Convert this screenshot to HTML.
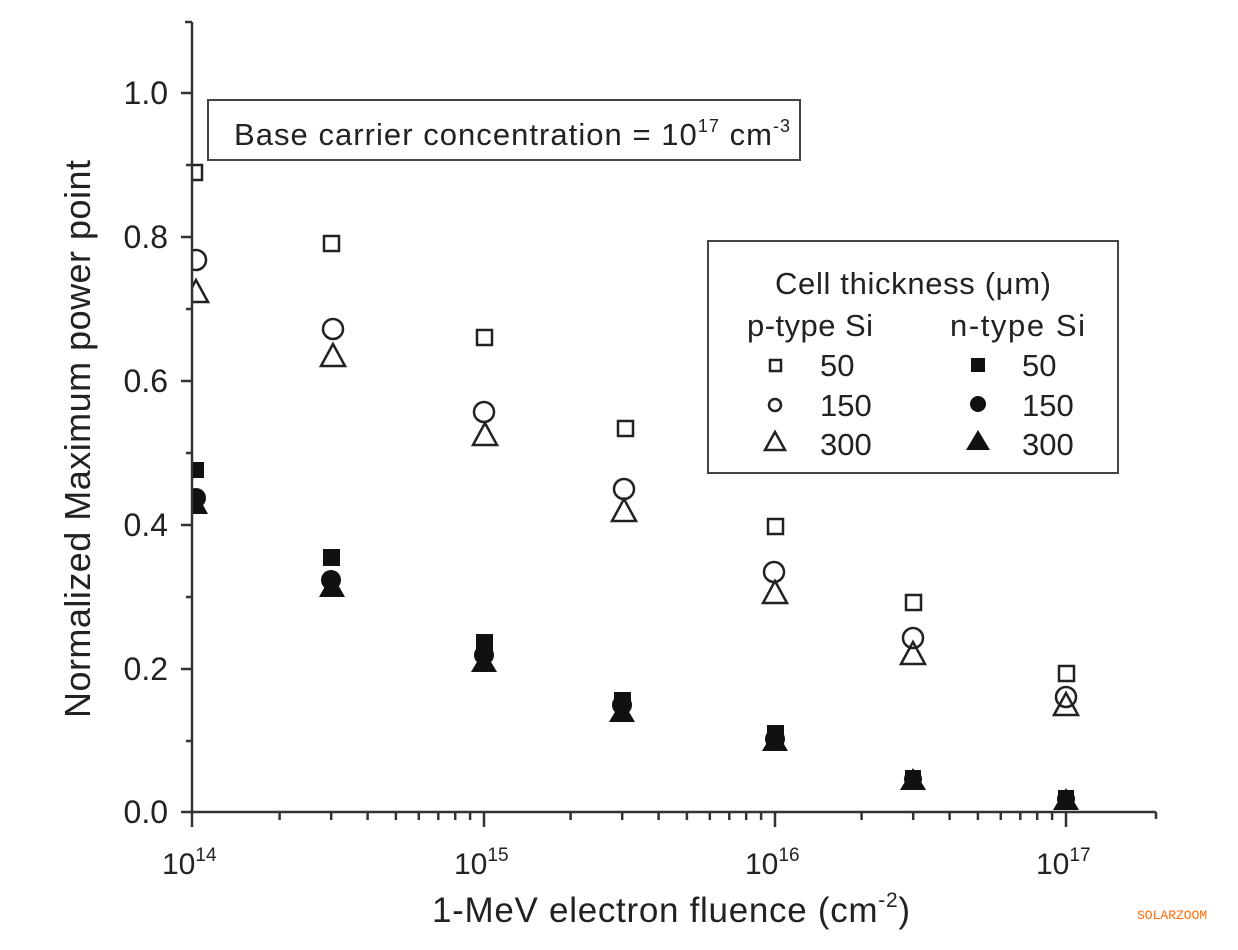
<!DOCTYPE html>
<html><head><meta charset="utf-8"><style>
html,body{margin:0;padding:0;background:#fff;}
svg{display:block;font-family:"Liberation Sans",Arial,sans-serif;}
</style></head><body>
<svg width="1238" height="950" viewBox="0 0 1238 950" xmlns="http://www.w3.org/2000/svg">
<defs><clipPath id="c"><rect x="193" y="0" width="1045" height="950"/></clipPath></defs>
<g stroke="#333" stroke-width="2.5" fill="none">
<line x1="192" y1="22" x2="192" y2="812"/>
<line x1="192" y1="812" x2="1156" y2="812"/>
<line x1="185" y1="22" x2="192" y2="22"/>
<line x1="1156" y1="812" x2="1156" y2="819"/>
<path d="M181 93H192M181 237H192M181 381H192M181 525H192M181 669H192M181 812H192"/>
<path d="M186 165H192M186 309H192M186 453H192M186 597H192M186 741H192"/>
<path d="M192 812V827M484 812V827M775 812V827M1066 812V827"/>
<path d="M279.6 812V820M331.2 812V820M367.6 812V820M395.9 812V820M418.8 812V820M438.3 812V820M455.2 812V820M470.1 812V820
M570.6 812V820M622.2 812V820M658.6 812V820M686.9 812V820M709.8 812V820M729.3 812V820M746.2 812V820M761.1 812V820
M861.6 812V820M913.2 812V820M949.6 812V820M977.9 812V820M1000.8 812V820M1020.3 812V820M1037.2 812V820M1052.1 812V820"/>
</g>
<g font-size="32" fill="#222" text-anchor="end">
<text x="168" y="104">1.0</text><text x="168" y="248">0.8</text><text x="168" y="392">0.6</text>
<text x="168" y="536">0.4</text><text x="168" y="680">0.2</text><text x="168" y="823">0.0</text>
</g>
<g font-size="30" fill="#222">
<text x="162" y="874">10<tspan font-size="19" dy="-13">14</tspan></text>
<text x="454" y="874">10<tspan font-size="19" dy="-13">15</tspan></text>
<text x="745" y="874">10<tspan font-size="19" dy="-13">16</tspan></text>
<text x="1036" y="874">10<tspan font-size="19" dy="-13">17</tspan></text>
</g>
<text x="432" y="922" font-size="35" fill="#222" textLength="478" lengthAdjust="spacing">1-MeV electron fluence (cm<tspan font-size="21" dy="-15">-2</tspan><tspan dy="15">)</tspan></text>
<text transform="translate(90,439) rotate(-90)" font-size="36" fill="#222" text-anchor="middle" textLength="558" lengthAdjust="spacing">Normalized Maximum power point</text>
<rect x="208" y="100" width="592" height="60" fill="#fff" stroke="#444" stroke-width="2"/>
<text x="234" y="145" font-size="31" fill="#222" textLength="556" lengthAdjust="spacing">Base carrier concentration = 10<tspan font-size="18" dy="-13">17</tspan><tspan dy="13"> cm</tspan><tspan font-size="18" dy="-13">-3</tspan></text>
<rect x="708" y="241" width="410" height="232" fill="#fff" stroke="#444" stroke-width="2"/>
<g font-size="31" fill="#222">
<text x="775" y="294" textLength="276" lengthAdjust="spacing">Cell thickness (μm)</text>
<text x="747" y="336" textLength="126" lengthAdjust="spacing">p-type Si</text>
<text x="950" y="336" textLength="135" lengthAdjust="spacing">n-type Si</text>
<text x="820" y="376">50</text>
<text x="820" y="416">150</text>
<text x="820" y="455">300</text>
<text x="1022" y="376">50</text>
<text x="1022" y="416">150</text>
<text x="1022" y="455">300</text>
</g>
<g stroke="#222" stroke-width="2.5" fill="none">
<rect x="770" y="360" width="11" height="11"/><circle cx="775" cy="405" r="6"/><path d="M765 450L775 432L785 450Z"/>
</g>
<g fill="#111">
<rect x="971" y="358" width="14" height="14"/><circle cx="978" cy="404" r="8"/><path d="M966 450L978 430L990 450Z"/>
</g>
<g clip-path="url(#c)">
<g stroke="#222" stroke-width="2.5" fill="none">
<rect x="187" y="165" width="15" height="15"/><rect x="324" y="236" width="15" height="15"/><rect x="477" y="330" width="15" height="15"/>
<rect x="618" y="421" width="15" height="15"/><rect x="768" y="519" width="15" height="15"/><rect x="906" y="595" width="15" height="15"/><rect x="1059" y="666" width="15" height="15"/>
<circle cx="196" cy="260" r="10"/><circle cx="333" cy="329" r="10"/><circle cx="484" cy="412" r="10"/><circle cx="624" cy="489" r="10"/>
<circle cx="774" cy="572" r="10"/><circle cx="913" cy="638" r="10"/><circle cx="1066" cy="697" r="10"/>
<path d="M184 302L196 280L208 302Z"/><path d="M321 366L333 344L345 366Z"/><path d="M473 445L485 423L497 445Z"/>
<path d="M612 521L624 499L636 521Z"/><path d="M763 603L775 581L787 603Z"/><path d="M901 664L913 642L925 664Z"/><path d="M1054 715L1066 693L1078 715Z"/>
</g>
<g fill="#111">
<rect x="188" y="462" width="16" height="16"/><rect x="323" y="549" width="17" height="17"/><rect x="476" y="634" width="17" height="17"/>
<rect x="614" y="692" width="17" height="17"/><rect x="767" y="725" width="17" height="17"/><rect x="905" y="770" width="16" height="16"/><rect x="1058" y="790" width="16" height="14"/>
<circle cx="196" cy="498" r="10"/><circle cx="331" cy="580" r="10"/><circle cx="484" cy="655" r="10"/><circle cx="622" cy="705" r="10"/>
<circle cx="775" cy="739" r="10"/><circle cx="913" cy="779" r="9"/><circle cx="1066" cy="799" r="9"/>
<path d="M184 514L196 492L208 514Z"/><path d="M319 597L332 574L345 597Z"/><path d="M471 672L484 650L497 672Z"/>
<path d="M609 722L622 700L635 722Z"/><path d="M762 751L775 729L788 751Z"/><path d="M900 790L913 768L926 790Z"/><path d="M1053 810L1066 788L1079 810Z"/>
</g>
</g>
<text x="1137" y="919" font-size="13" fill="#ff6a00" font-family="Liberation Mono, monospace">SOLARZOOM</text>
</svg>
</body></html>
